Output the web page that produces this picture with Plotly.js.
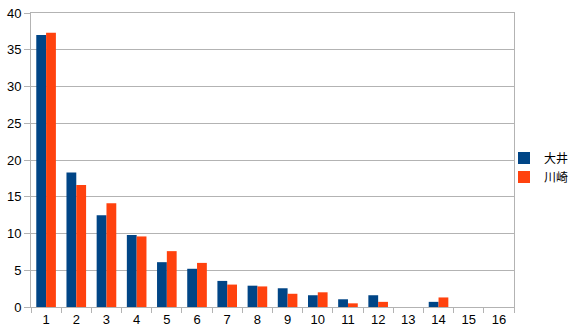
<!DOCTYPE html>
<html>
<head>
<meta charset="utf-8">
<script src="https://cdn.plot.ly/plotly-3.0.1.min.js"></script>
<style>html,body{margin:0;padding:0;background:#fff;}#chart{width:572px;height:335px;}</style>
</head>
<body>
<div id="chart"></div>
<script>
var categories = ["1","2","3","4","5","6","7","8","9","10","11","12","13","14","15","16"];
var seriesNames = ["大井", "川崎"];
var ooi = [37.0, 18.3, 12.5, 9.8, 6.1, 5.2, 3.55, 2.9, 2.55, 1.6, 1.05, 1.6, 0, 0.7, 0, 0];
var kawasaki = [37.3, 16.6, 14.1, 9.6, 7.6, 6.0, 3.05, 2.8, 1.8, 2.0, 0.5, 0.7, 0, 1.3, 0, 0];
var yTicks = [0, 5, 10, 15, 20, 25, 30, 35, 40];

var fontFam = "Liberation Sans, Arial, Noto Sans CJK JP, sans-serif";
var traces = [
  {type: "bar", name: seriesNames[0], x: categories, y: ooi, marker: {color: "#004586"}},
  {type: "bar", name: seriesNames[1], x: categories, y: kawasaki, marker: {color: "#ff420e"}}
];
var layout = {
  width: 572, height: 335,
  margin: {l: 31, r: 58, t: 13, b: 28, autoexpand: false},
  paper_bgcolor: "#fff", plot_bgcolor: "#fff",
  font: {family: fontFam, size: 13, color: "#000"},
  barmode: "group", bargap: 0.35, bargroupgap: 0,
  xaxis: {type: "category", tickson: "boundaries", ticks: "outside", ticklen: 5, tickcolor: "#b3b3b3",
          showgrid: false, showline: true, linecolor: "#b3b3b3", linewidth: 1, mirror: true,
          tickfont: {size: 13}, fixedrange: true},
  yaxis: {range: [0, 40], tickvals: yTicks, ticks: "outside", ticklen: 6, tickcolor: "#b3b3b3",
          showgrid: true, gridcolor: "#b3b3b3", gridwidth: 1, showline: true, linecolor: "#b3b3b3",
          linewidth: 1, mirror: true, zeroline: false, tickfont: {size: 13}, fixedrange: true},
  legend: {xref: "container", yref: "container", x: 504 / 572, xanchor: "left", y: 0.5, yanchor: "middle",
           font: {size: 12}, itemwidth: 30, tracegroupgap: 0, bgcolor: "rgba(0,0,0,0)", borderwidth: 0},
  showlegend: true
};
Plotly.newPlot("chart", traces, layout, {displayModeBar: false, staticPlot: true});
</script>
</body>
</html>
